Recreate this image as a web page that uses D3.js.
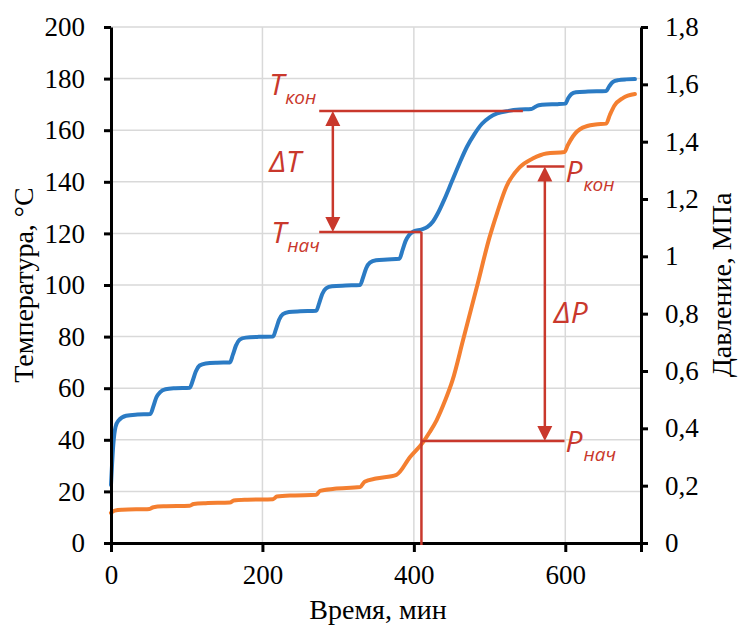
<!DOCTYPE html>
<html>
<head>
<meta charset="utf-8">
<script src="https://cdn.jsdelivr.net/npm/d3@7"></script>
<style>
  body { margin: 0; background: #fff; }
</style>
</head>
<body>
<div id="chart"></div>
<script>
// chart size and margins (plot area 111..641 x 27..543)
const width = 740,
  height = 630,
  margins = { top: 27, bottom: 87, left: 111, right: 99 };

// temperature curve, minutes / degrees C
const tempTime = [0, 3, 6, 10, 20, 35, 52, 56, 60, 65, 72, 85, 104, 108, 112, 117, 125, 140,
  157, 161, 165, 170, 178, 195, 214, 218, 222, 227, 235, 250, 271, 275, 279, 284, 292, 310,
  329, 333, 337, 342, 350, 365, 381, 385, 389, 394, 400, 410, 418, 425, 432, 440, 450, 460,
  470, 480, 490, 500, 510, 525, 540, 555, 560, 565, 575, 590, 600, 604, 608, 614, 630, 654,
  658, 663, 670, 680, 692];
const tempValues = [22.5, 38, 45, 47.5, 49.3, 49.8, 50, 53, 56.5, 58.5, 59.6, 60, 60.2, 63,
  66.5, 68.8, 69.6, 69.9, 70, 73, 76.5, 78.8, 79.6, 79.9, 80, 83, 86.5, 88.7, 89.5, 89.8, 90,
  93, 96.5, 98.7, 99.5, 99.8, 100, 103, 106.5, 108.7, 109.6, 109.9, 110.2, 113.5, 117, 119.5,
  120.8, 121.5, 122.5, 124.5, 128, 133, 140, 147, 153.5, 158.5, 162.5, 165, 166.5, 167.5, 168,
  168.2, 169, 169.7, 170, 170.1, 170.3, 172.5, 174, 174.7, 175, 175.2, 177, 178.7, 179.4,
  179.7, 179.8];

// pressure curve, minutes / MPa
const presTime = [0, 5, 15, 51, 56, 70, 104, 109, 125, 157, 162, 180, 214, 219, 240, 271, 276,
  295, 329, 335, 350, 377, 395, 412, 421, 430, 441, 451, 465, 483, 500, 510, 522, 540,
  557, 575, 599, 603, 610, 623, 640, 654, 659, 665, 676, 692];
const presValues = [0.105, 0.113, 0.116, 0.119, 0.125, 0.128, 0.13, 0.136, 0.139, 0.141, 0.148,
  0.151, 0.153, 0.162, 0.166, 0.168, 0.182, 0.189, 0.195, 0.214, 0.225, 0.238, 0.30,
  0.351, 0.387, 0.428, 0.495, 0.567, 0.708, 0.891, 1.067, 1.152, 1.242, 1.311, 1.341, 1.359,
  1.364, 1.386, 1.418, 1.449, 1.46, 1.463, 1.494, 1.526, 1.552, 1.566];

// axis ticks
const timeTicks = [0, 200, 400, 600];
const tempTicks = [0, 20, 40, 60, 80, 100, 120, 140, 160, 180, 200];
const presTicks = [0, 0.2, 0.4, 0.6, 0.8, 1, 1.2, 1.4, 1.6, 1.8];

// annotation values
const tempStart = 120.5, tempEnd = 167.4;
const presStart = 0.356, presEnd = 1.313;
const tempMarkFrom = 275, tempMarkTo = 544, tempStartTo = 410, tempArrowAt = 293;
const presMarkTo = 599, presEndFrom = 549, presArrowAt = 573;

const blue = "#2b7bc4", orange = "#f47f30", red = "#c9382c", grid = "#d9d9d9";
const serif = "'Liberation Serif', 'Times New Roman', serif";
const sans = "'Open Sans', 'DejaVu Sans', sans-serif";

const svg = d3.select("#chart")
  .append("svg")
  .attr("width", width)
  .attr("height", height)
  .style("background", "#fff");

const xScale = d3.scaleLinear()
  .domain([0, 700])
  .range([margins.left, width - margins.right]);

const yTemp = d3.scaleLinear()
  .domain([0, 200])
  .range([height - margins.bottom, margins.top]);

const yPres = d3.scaleLinear()
  .domain([0, 1.8])
  .range([height - margins.bottom, margins.top]);

// gridlines
svg.append("g")
  .selectAll("line.hgrid")
  .data(tempTicks.filter(d => d > 0))
  .join("line")
  .attr("class", "hgrid")
  .attr("x1", xScale(0))
  .attr("x2", xScale(700))
  .attr("y1", d => yTemp(d))
  .attr("y2", d => yTemp(d))
  .attr("stroke", grid)
  .attr("stroke-width", 1.5);

svg.append("g")
  .selectAll("line.vgrid")
  .data(timeTicks.filter(d => d > 0))
  .join("line")
  .attr("class", "vgrid")
  .attr("x1", d => xScale(d))
  .attr("x2", d => xScale(d))
  .attr("y1", yTemp(0))
  .attr("y2", yTemp(200))
  .attr("stroke", grid)
  .attr("stroke-width", 1.5);

// curves
const tempLine = d3.line()
  .x((d, i) => xScale(tempTime[i]))
  .y(d => yTemp(d))
  .curve(d3.curveMonotoneX);

const presLine = d3.line()
  .x((d, i) => xScale(presTime[i]))
  .y(d => yPres(d))
  .curve(d3.curveMonotoneX);

svg.append("path")
  .attr("d", presLine(presValues))
  .attr("fill", "none")
  .attr("stroke", orange)
  .attr("stroke-width", 4)
  .attr("stroke-linecap", "round");

svg.append("path")
  .attr("d", tempLine(tempValues))
  .attr("fill", "none")
  .attr("stroke", blue)
  .attr("stroke-width", 4)
  .attr("stroke-linecap", "round");

// axes
const fmt = d => String(d).replace(".", ",");

const xAxis = svg.append("g")
  .attr("transform", `translate(0, ${height - margins.bottom})`)
  .call(d3.axisBottom(xScale).tickValues(timeTicks).tickSize(9).tickSizeOuter(9).tickPadding(12));

const yAxisL = svg.append("g")
  .attr("transform", `translate(${margins.left}, 0)`)
  .call(d3.axisLeft(yTemp).tickValues(tempTicks).tickSize(7).tickSizeOuter(0).tickPadding(19));

const yAxisR = svg.append("g")
  .attr("transform", `translate(${width - margins.right}, 0)`)
  .call(d3.axisRight(yPres).tickValues(presTicks).tickFormat(fmt).tickSize(7).tickSizeOuter(0).tickPadding(17));

[xAxis, yAxisL, yAxisR].forEach(g => {
  g.select(".domain").attr("stroke", "#000").attr("stroke-width", 3);
  g.selectAll(".tick line").attr("stroke", "#000").attr("stroke-width", 3);
  g.selectAll(".tick text")
    .attr("fill", "#000")
    .style("font-family", serif)
    .style("font-size", "27px");
});
xAxis.selectAll(".tick text").attr("dy", "0.75em");

// axis titles
svg.append("text")
  .attr("transform", `translate(33, ${(yTemp(0) + yTemp(200)) / 2}) rotate(-90)`)
  .attr("text-anchor", "middle")
  .style("font-family", serif)
  .style("font-size", "28px")
  .text("Температура, °С");

svg.append("text")
  .attr("transform", `translate(731, ${(yTemp(0) + yTemp(200)) / 2}) rotate(-90)`)
  .attr("text-anchor", "middle")
  .style("font-family", serif)
  .style("font-size", "28px")
  .text("Давление, МПа");

svg.append("text")
  .attr("x", (xScale(0) + xScale(700)) / 2 + 2)
  .attr("y", 619)
  .attr("text-anchor", "middle")
  .style("font-family", serif)
  .style("font-size", "28px")
  .text("Время, мин");

// annotation lines
const ann = svg.append("g")
  .attr("stroke", red)
  .attr("stroke-width", 2.5)
  .attr("fill", "none");

const hLines = [
  { x1: tempMarkFrom, x2: tempMarkTo, y: yTemp(tempEnd) },
  { x1: tempMarkFrom, x2: tempStartTo, y: yTemp(tempStart) },
  { x1: tempStartTo, x2: presMarkTo, y: yPres(presStart) },
  { x1: presEndFrom, x2: presMarkTo, y: yPres(presEnd) }
];

ann.selectAll("line.h")
  .data(hLines)
  .join("line")
  .attr("x1", d => xScale(d.x1))
  .attr("x2", d => xScale(d.x2))
  .attr("y1", d => d.y)
  .attr("y2", d => d.y);

ann.append("line")
  .attr("x1", xScale(tempStartTo))
  .attr("x2", xScale(tempStartTo))
  .attr("y1", yTemp(tempStart))
  .attr("y2", yTemp(0) + 2);

// double arrows
const head = 15, half = 7.5;
const arrows = [
  { x: tempArrowAt, top: yTemp(tempEnd), bottom: yTemp(tempStart) },
  { x: presArrowAt, top: yPres(presEnd), bottom: yPres(presStart) }
];

arrows.forEach(a => {
  const cx = xScale(a.x);
  ann.append("line")
    .attr("x1", cx).attr("x2", cx)
    .attr("y1", a.top + head - 2)
    .attr("y2", a.bottom - head + 2);
  svg.append("path")
    .attr("d", `M${cx},${a.top}L${cx - half},${a.top + head}L${cx + half},${a.top + head}Z`)
    .attr("fill", red);
  svg.append("path")
    .attr("d", `M${cx},${a.bottom}L${cx - half},${a.bottom - head}L${cx + half},${a.bottom - head}Z`)
    .attr("fill", red);
});

// annotation labels
function label(x, y, main, sub) {
  const t = svg.append("text")
    .attr("x", x)
    .attr("y", y)
    .attr("fill", red)
    .style("font-family", sans)
    .style("font-style", "italic")
    .style("font-size", "30px");
  t.append("tspan").text(main);
  if (sub) {
    t.append("tspan")
      .attr("dx", 1)
      .attr("dy", 9)
      .style("font-size", "19px")
      .text(sub);
  }
}

label(xScale(tempMarkFrom) - 50, yTemp(tempEnd) - 16, "T", "кон");
label(xScale(tempMarkFrom) - 50, yTemp(tempEnd) + 61, "ΔT");
label(xScale(tempMarkFrom) - 48, yTemp(tempStart) + 11, "T", "нач");
label(xScale(presMarkTo) + 1, yPres(presEnd) + 15, "P", "кон");
label(xScale(presArrowAt) + 9, yPres(presStart) - 118, "ΔP");
label(xScale(presMarkTo) + 1, yPres(presStart) + 11, "P", "нач");
</script>
</body>
</html>
